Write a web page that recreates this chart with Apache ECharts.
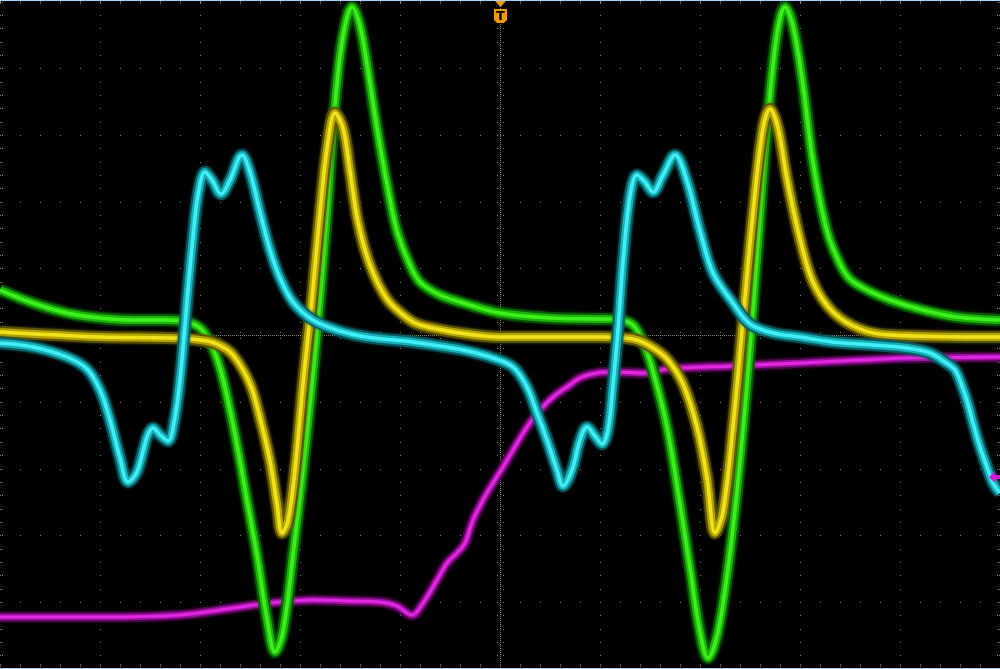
<!DOCTYPE html>
<html>
<head>
<meta charset="utf-8">
<script src="https://cdn.jsdelivr.net/npm/echarts@6/dist/echarts.min.js"></script>
<style>
html,body{margin:0;padding:0;background:#000;}
#chart{width:1000px;height:669px;}
</style>
</head>
<body>
<div id="chart"></div>
<script>
// Screen is 10 x 10 divisions; x in 0..1000 (100 per div), y in 0..669 (top = 0)
const xRange = [0, 1000];
const yRange = [0, 669];

// Channel traces: [x, y]
const cyan = [[0,343],[33,347],[67,357],[87,369],[100,390],[110,420],[120,458],[128,482],[137,472],[147,437],[153,428],[160,435],[168,441],[175,417],[180,380],[185,325],[188,290],[193,237],[198,195],[205,172],[212,180],[221,194],[230,180],[242,155],[250,172],[260,212],[270,250],[280,278],[293,302],[313,320],[340,331],[367,337],[413,342],[440,346],[463,350],[490,357],[513,367],[527,387],[537,413],[547,440],[557,470],[563,486],[572,470],[580,440],[587,427],[595,436],[602,444],[608,430],[613,385],[618,330],[623,262],[630,196],[637,175],[645,182],[653,192],[663,175],[675,155],[687,181],[700,231],[713,273],[733,303],[750,324],[773,333],[800,337],[833,342],[873,345],[907,348],[930,353],[945,362],[955,370],[962,386],[968,404],[973,423],[980,447],[987,467],[993,483],[1000,493]];
const green = [[0,290],[33,303],[67,313],[100,318],[133,320],[167,320],[187,322],[200,328],[210,342],[220,368],[230,410],[238,450],[247,500],[257,555],[267,619],[275,652],[283,632],[293,555],[303,470],[312,384],[320,299],[327,213],[333,128],[340,56],[347,17],[352,7],[360,26],[367,64],[377,128],[387,184],[397,231],[410,265],[420,282],[440,295],[470,305],[500,313],[550,318],[600,319],[620,320],[633,325],[643,342],[653,371],[667,427],[680,504],[690,568],[700,632],[708,658],[717,636],[727,576],[737,491],[747,384],[757,256],[767,128],[777,34],[785,7],[793,26],[803,85],[813,162],[827,231],[840,264],[850,279],[867,290],[890,300],[923,310],[957,317],[1000,320]];
const yellow = [[0,332],[100,337],[167,338],[200,340],[217,344],[233,355],[250,384],[260,418],[270,461],[277,504],[282,533],[288,521],[295,470],[303,384],[312,299],[320,213],[327,149],[335,113],[343,128],[350,171],[358,222],[370,265],[387,299],[407,318],[420,325],[460,333],[500,337],[600,337],[633,339],[650,346],[667,359],[683,384],[697,427],[707,478],[715,533],[723,512],[733,427],[743,320],[753,213],[763,128],[770,109],[778,128],[787,179],[800,239],[813,282],[833,312],[860,329],[890,335],[1000,337]];
const magenta = [[0,617],[100,617],[180,615],[247,606],[280,602],[313,600],[347,601],[380,602],[397,606],[412,615],[423,603],[437,580],[447,563],[457,553],[465,543],[473,520],[483,500],[493,483],[503,467],[513,450],[527,427],[540,410],[553,397],[567,387],[580,378],[597,373],[613,372],[647,373],[667,369],[733,366],[800,363],[860,360],[907,358],[1000,357]];

const dotColor = '#8f8670';
const divX = 100, minorX = 20, divY = 66.7, minorY = 13.34, yTop = 1.6;

function gridItem(params, api) {
  const ch = [];
  const dot = (x, y) => {
    const p = api.coord([x, y]);
    ch.push({type: 'rect', silent: true, shape: {x: Math.round(p[0]), y: Math.round(p[1]), width: 1, height: 1}, style: {fill: dotColor}});
  };
  for (let i = 1; i < 10; i++) {
    if (i === 5) continue;
    for (let k = 0; k <= 50; k++) dot(i * divX, yTop + k * minorY);
  }
  for (let j = 1; j < 10; j++) {
    if (j === 5) continue;
    for (let i = 0; i <= 50; i++) dot(i * minorX, yTop + j * divY);
  }
  const cx = 5 * divX, cy = yTop + 5 * divY;
  for (let y = 0; y < 669; y += 2) dot(cx, y);
  for (let k = 0; k <= 50; k++) { const y = yTop + k * minorY; dot(cx - 3, y); dot(cx + 3, y); }
  for (let x = 0; x < 1000; x += 2) dot(x, cy);
  for (let i = 0; i <= 50; i++) { dot(i * minorX, cy - 3); dot(i * minorX, cy + 3); }
  for (let k = 0; k <= 50; k++) {
    const y = yTop + k * minorY;
    dot(0, y); dot(2, y); dot(997, y); dot(999, y);
  }
  for (let i = 0; i <= 50; i++) {
    const x = i * minorX;
    dot(x, 1); dot(x, 3); dot(x, 664); dot(x, 666);
  }
  return {type: 'group', children: ch};
}

function trace(name, data, dark, mid, core, widths, z) {
  const base = {name: name, type: 'line', data: data, smooth: 0.35, showSymbol: false, silent: true};
  return [
    Object.assign({}, base, {z: z, lineStyle: {color: dark, width: widths[0], opacity: 0.9, shadowColor: dark, shadowBlur: 3}}),
    Object.assign({}, base, {z: z + 0.1, lineStyle: {color: mid, width: widths[1]}}),
    Object.assign({}, base, {z: z + 0.2, lineStyle: {color: core, width: widths[2]}})
  ];
}

const chart = echarts.init(document.getElementById('chart'), null, {renderer: 'canvas'});
chart.setOption({
  backgroundColor: '#000',
  animation: false,
  grid: {left: 0, right: 0, top: 0, bottom: 0},
  xAxis: {type: 'value', min: xRange[0], max: xRange[1], show: false},
  yAxis: {type: 'value', min: yRange[0], max: yRange[1], inverse: true, show: false},
  series: [
    {type: 'custom', data: [[0, 0]], renderItem: gridItem, silent: true, z: 1},
    ...trace('CH3', magenta, '#4e084e', '#a010a0', '#e028e0', [10, 6.5, 3], 2),
    ...trace('CH4', green, '#0a5a04', '#1cb408', '#3ef01e', [12, 8, 3.5], 3),
    ...trace('CH1', yellow, '#5e5400', '#b4a400', '#f2e21c', [12, 8, 3.5], 4),
    ...trace('CH2', cyan, '#0a5c62', '#16b0b8', '#44eef6', [12, 8, 3.5], 5)
  ],
  graphic: [
    {type: 'rect', shape: {x: 0, y: 0, width: 1000, height: 1}, style: {fill: '#a8d4ff'}, z: 100},
    {type: 'rect', shape: {x: 0, y: 668, width: 1000, height: 1}, style: {fill: '#a8d4ff'}, z: 100},
    {type: 'polygon', shape: {points: [[495, 1], [506, 1], [500.5, 7]]}, style: {fill: '#f79a00'}, z: 100},
    {type: 'polygon', shape: {points: [[494, 9], [507, 9], [507, 20], [504, 23], [497, 23], [494, 20]]}, style: {fill: '#f79a00'}, z: 100},
    {type: 'text', x: 500.5, y: 16.5, style: {text: 'T', fill: '#000', font: 'bold 13px "DejaVu Sans"', align: 'center', verticalAlign: 'middle'}, z: 101},
    {type: 'polygon', shape: {points: [[989, 477], [995, 471], [995, 475], [1000, 475], [1000, 479], [995, 479], [995, 483]]}, style: {fill: '#d414d4'}, z: 100}
  ]
});
</script>
</body>
</html>
